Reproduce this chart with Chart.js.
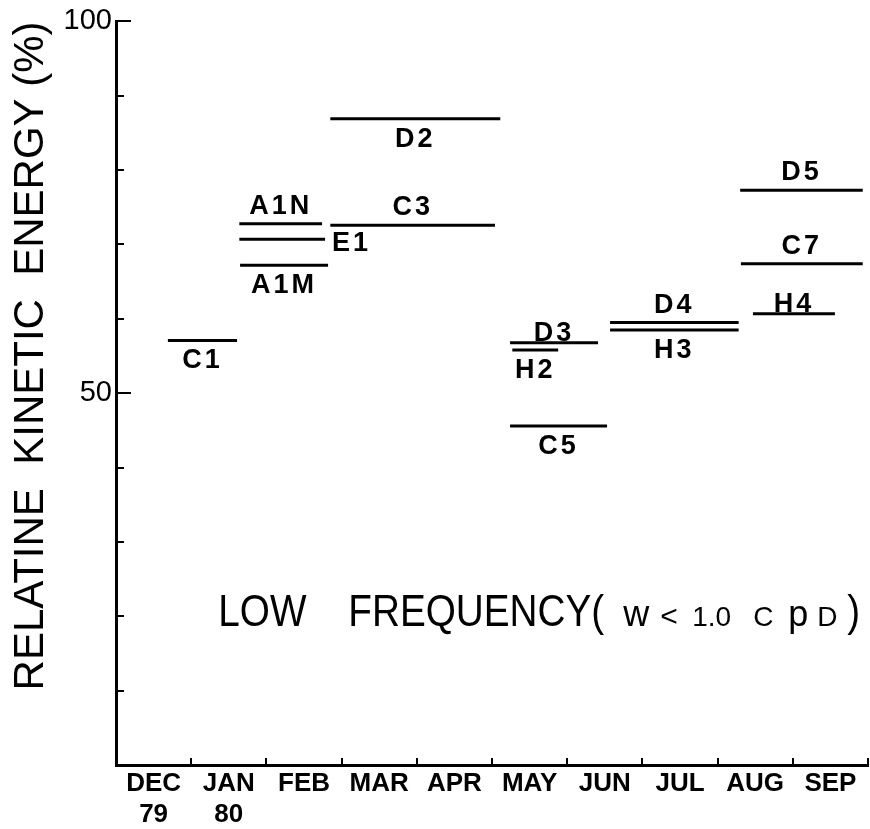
<!DOCTYPE html>
<html>
<head>
<meta charset="utf-8">
<script src="https://cdn.jsdelivr.net/npm/chart.js@4.4.1/dist/chart.umd.min.js"></script>
<style>
  html, body { margin: 0; padding: 0; background: #fff; }
  #wrap { width: 870px; height: 829px; }
</style>
</head>
<body>
<div id="wrap"><canvas id="myChart"></canvas></div>
<script>
// month slots along the bottom (x = months since 1 Dec 79)
var months = [['DEC', '79'], ['JAN', '80'], 'FEB', 'MAR', 'APR', 'MAY', 'JUN', 'JUL', 'AUG', 'SEP'];
var monthCentres = [0.5, 1.5, 2.5, 3.5, 4.5, 5.5, 6.5, 7.5, 8.5, 9.5];
var yLabelled = [50, 100];

// one bar per mooring record
var records    = ['C1', 'A1N', 'E1', 'A1M', 'D2', 'C3', 'D3', 'H2', 'C5', 'D4', 'H3', 'D5', 'C7', 'H4'];
var startMonth = [0.69, 1.64, 1.64, 1.65, 2.85, 2.85, 5.24, 5.27, 5.24, 6.57, 6.57, 8.30, 8.31, 8.47];
var endMonth   = [1.61, 2.74, 2.78, 2.82, 5.11, 5.04, 6.41, 5.88, 6.53, 8.28, 8.28, 9.93, 9.93, 9.56];
var energy     = [57.1, 72.8, 70.7, 67.2, 86.9, 72.6, 56.8, 55.8, 45.6, 59.5, 58.5, 77.3, 67.4, 60.7];

// where each record name goes relative to its bar
var labelSide = ['below', 'above', 'right', 'below', 'below', 'above', 'on', 'below', 'below', 'above', 'below', 'above', 'above', 'on'];

var datasets = records.map(function(name, i) {
	return {
		label: name,
		data: [{x: startMonth[i], y: energy[i]}, {x: endMonth[i], y: energy[i]}],
		showLine: true,
		borderColor: '#000',
		borderWidth: 3,
		pointRadius: 0,
		fill: false
	};
});

var marks = {
	id: 'marks',
	afterDraw: function(chart) {
		var ctx = chart.ctx;
		var xs = chart.scales.x, ys = chart.scales.y;
		var area = chart.chartArea;
		ctx.save();
		ctx.strokeStyle = '#000';
		ctx.fillStyle = '#000';

		// tick marks point into the plot
		ctx.lineWidth = 2;
		for (var m = 1; m <= 10; m++) {
			var px = Math.round(xs.getPixelForValue(m));
			ctx.beginPath();
			ctx.moveTo(px, area.bottom);
			ctx.lineTo(px, area.bottom - 7);
			ctx.stroke();
		}
		for (var v = 10; v <= 100; v += 10) {
			var py = Math.round(ys.getPixelForValue(v));
			var len = yLabelled.indexOf(v) >= 0 ? 15 : 8;
			ctx.beginPath();
			ctx.moveTo(area.left, py);
			ctx.lineTo(area.left + len, py);
			ctx.stroke();
		}

		// record names
		ctx.font = 'bold 27px "Liberation Sans"';
		ctx.letterSpacing = '3px';
		records.forEach(function(name, i) {
			var y = ys.getPixelForValue(energy[i]);
			var x0 = xs.getPixelForValue(startMonth[i]);
			var x1 = xs.getPixelForValue(endMonth[i]);
			var cx = (x0 + x1) / 2;
			ctx.textAlign = 'center';
			ctx.textBaseline = 'alphabetic';
			var side = labelSide[i];
			if (side === 'above') ctx.fillText(name, cx, y - 10);
			else if (side === 'on') ctx.fillText(name, cx, y - 2);
			else if (side === 'below') ctx.fillText(name, cx, y + 28);
			else {
				ctx.textAlign = 'left';
				ctx.fillText(name, x1 + 7, y + 12);
			}
		});
		ctx.letterSpacing = '0px';

		// band note
		var ax = xs.getPixelForValue(1.36), ay = ys.getPixelForValue(18.7);
		var runs = [
			['LOW', 0, 44, 0.88],
			['FREQUENCY(', 130, 44, 0.88],
			['w', 405, 36, 1],
			['<', 442, 30, 1],
			['1.0', 474, 28, 1],
			['C', 535, 28, 1],
			['p', 570, 36, 1],
			['D', 599, 28, 1],
			[')', 629, 44, 0.88]
		];
		ctx.textAlign = 'left';
		ctx.textBaseline = 'alphabetic';
		runs.forEach(function(r) {
			ctx.save();
			ctx.font = r[2] + 'px "Liberation Sans"';
			ctx.translate(ax + r[1], ay);
			ctx.scale(r[3], 1);
			ctx.fillText(r[0], 0, 0);
			ctx.restore();
		});
		ctx.restore();
	}
};

var ctx = document.getElementById('myChart');
var chart = new Chart(ctx, {
	type: 'scatter',
	data: { datasets: datasets },
	options: {
		responsive: true,
		maintainAspectRatio: false,
		animation: false,
		layout: { padding: { top: 20, right: 2, left: 0, bottom: 0 } },
		plugins: { legend: { display: false }, tooltip: { enabled: false } },
		scales: {
			x: {
				type: 'linear',
				min: 0,
				max: 10,
				grid: { display: true, drawOnChartArea: false, drawTicks: false },
				border: { display: true, color: '#000', width: 3 },
				afterBuildTicks: function(scale) {
					scale.ticks = monthCentres.map(function(c) { return {value: c}; });
				},
				afterFit: function(scale) { scale.height = 64; },
				ticks: {
					autoSkip: false,
					maxRotation: 0,
					padding: 3,
					color: '#000',
					font: { family: 'Liberation Sans', size: 26, weight: 'bold', lineHeight: 1.2 },
					callback: function(value, index) { return months[index]; }
				}
			},
			y: {
				min: 0,
				max: 100,
				grid: { display: true, drawOnChartArea: false, drawTicks: false },
				border: { display: true, color: '#000', width: 3 },
				afterFit: function(scale) { scale.width = 116; },
				ticks: {
					stepSize: 10,
					padding: 4,
					color: '#000',
					font: { family: 'Liberation Sans', size: 29 },
					callback: function(value) { return yLabelled.indexOf(value) >= 0 ? String(value) : ''; }
				},
				title: {
					display: true,
					text: 'RELATINE  KINETIC  ENERGY (%)',
					align: 'end',
					color: '#000',
					padding: { top: 6, bottom: 0 },
					font: { family: 'Liberation Sans', size: 42, lineHeight: 1.2 }
				}
			}
		}
	},
	plugins: [marks]
});
</script>
</body>
</html>
